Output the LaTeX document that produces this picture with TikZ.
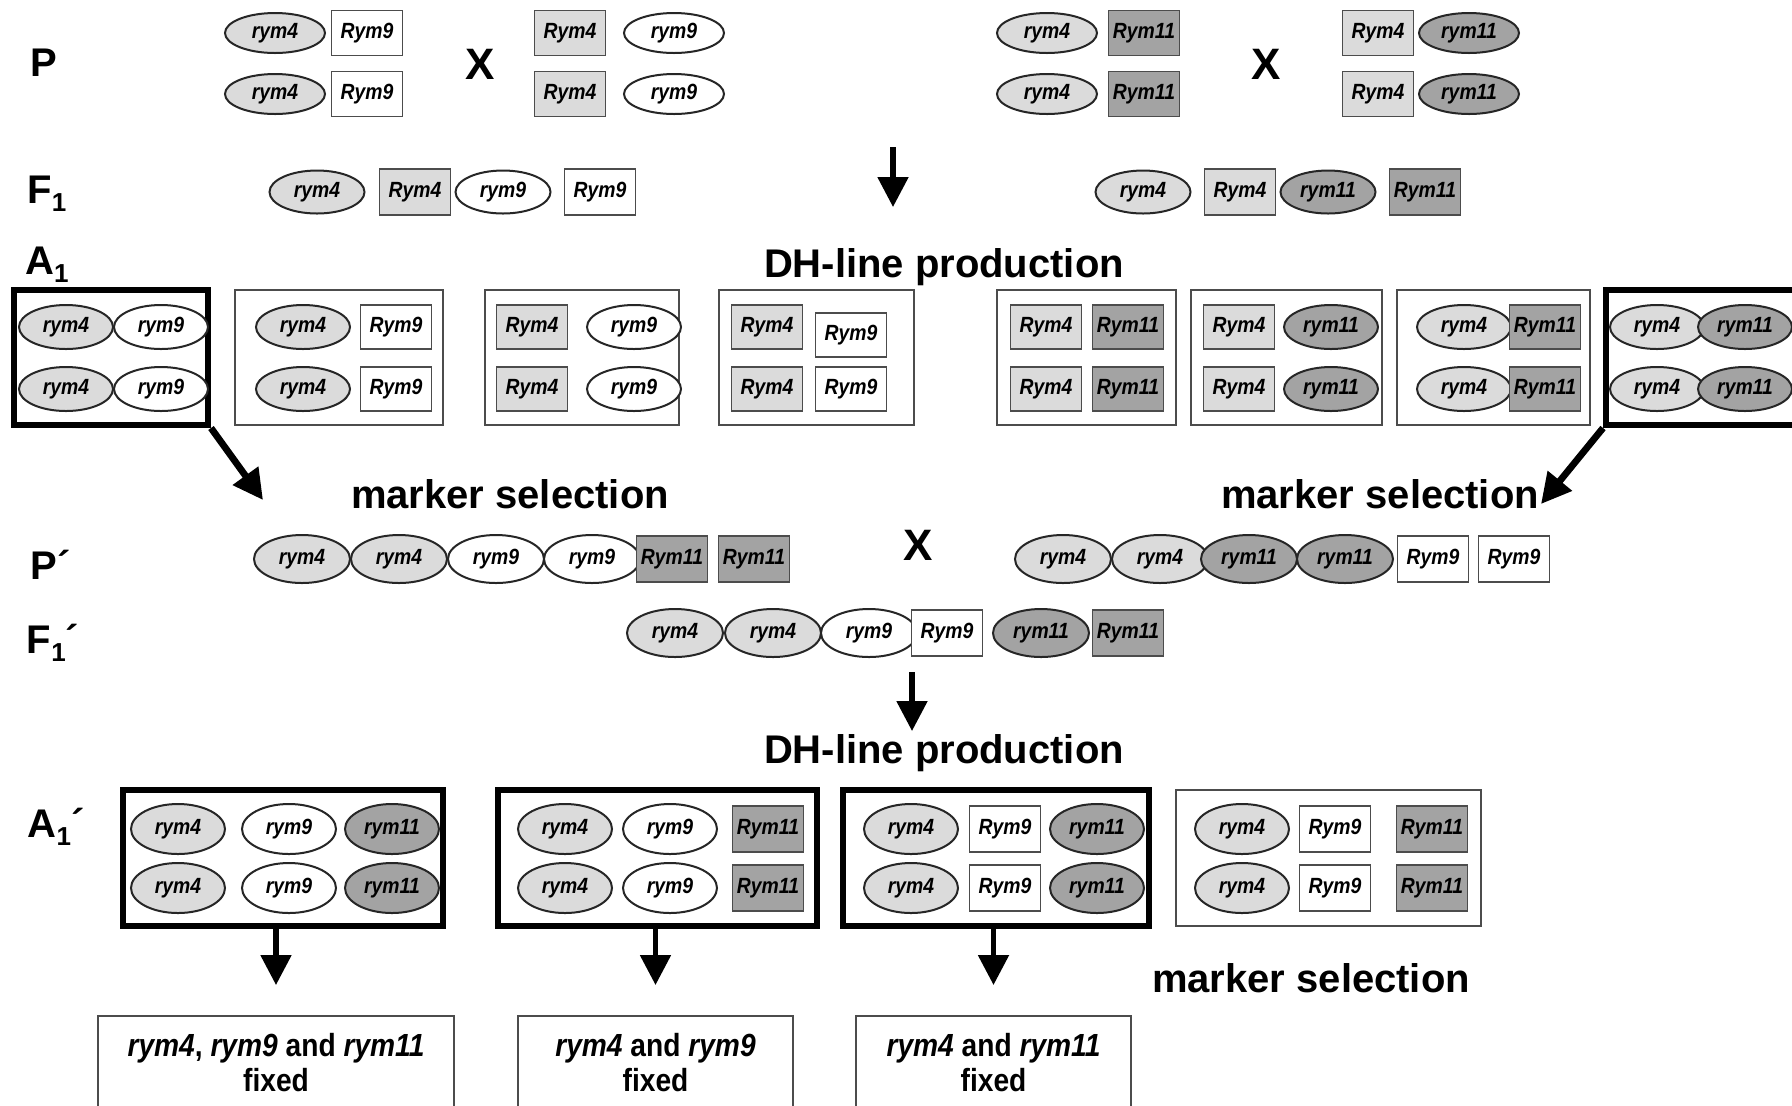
\documentclass[tikz,border=0pt]{standalone}
\usepackage{fontspec}
\setmainfont{Liberation Sans}
\newfontfamily\genefont[FakeStretch=0.88]{Liberation Sans}
\usetikzlibrary{shapes.geometric,arrows.meta}
\tikzset{
 gene/.style={font=\genefont\bfseries\itshape\fontsize{11}{12}\selectfont, inner sep=0pt},
 el/.style={gene, ellipse, draw=black!85, line width=1pt, minimum width=47pt, minimum height=22pt},
 bx/.style={gene, rectangle, draw=black!70, line width=0.9pt, minimum width=35.5pt, minimum height=22pt},
 lt/.style={fill=gray!28},
 dk/.style={fill=gray!72},
 wt/.style={fill=white},
 elP/.style={el, minimum width=50pt, minimum height=20pt},
 bxP/.style={bx, minimum height=22.5pt},
 elF/.style={el, minimum width=47.5pt, minimum height=21.5pt},
 bxF/.style={bx, minimum height=23pt},
 elQ/.style={el, minimum width=48pt, minimum height=24pt},
 bxQ/.style={bx, minimum height=23pt},
 elR/.style={el, minimum width=47pt, minimum height=25pt},
 bxR/.style={bx, minimum height=23pt},
 frm/.style={draw=black!70, line width=0.8pt, rectangle, inner sep=0pt},
 frmk/.style={draw=black, line width=3pt, rectangle, inner sep=0pt},
 big/.style={font=\bfseries\fontsize{20}{24}\selectfont, inner sep=0pt},
 cross/.style={font=\bfseries\fontsize{22}{24}\selectfont, inner sep=0pt},
 res/.style={font=\genefont\bfseries\fontsize{16}{17.5}\selectfont, align=center, inner sep=0pt},
 arr/.style={-{Triangle[length=15pt,width=15pt]}, line width=2.6pt},
 fat/.style={-{Triangle[length=15pt,width=15pt]}, line width=3.4pt},
}
\newcommand{\sub}[1]{\raisebox{-4pt}{\fontsize{13}{13}\selectfont #1}}
\begin{document}
\begin{tikzpicture}[x=0.5pt,y=-0.5pt]
\useasboundingbox (0,0) rectangle (1792,1105);
\clip (0,0) rectangle (1792,1105);
\fill[white] (0,0) rectangle (1792,1105);

% ---------- row labels ----------
\node[big] (lP) at (44,63) {P};
\node[big] (lF) at (47,194) {F\sub{1}};
\node[big] (lA) at (47,265) {A\sub{1}};
\node[big] (lP2) at (51,565) {P´};
\node[big] (lF2) at (53,643) {F\sub{1}´};
\node[big] (lA2) at (56,827) {A\sub{1}´};

% ---------- P ----------
\node[elP,lt] (pa1) at (275,33) {rym4};
\node[bxP,wt] (pa2) at (367,33) {Rym9};
\node[elP,lt] (pa3) at (275,94) {rym4};
\node[bxP,wt] (pa4) at (367,94) {Rym9};
\node[cross] (x1) at (480,64) {X};
\node[bxP,lt] (pb1) at (570,33) {Rym4};
\node[elP,wt] (pb2) at (674,33) {rym9};
\node[bxP,lt] (pb3) at (570,94) {Rym4};
\node[elP,wt] (pb4) at (674,94) {rym9};

\node[elP,lt] (pc1) at (1047,33) {rym4};
\node[bxP,dk] (pc2) at (1144,33) {Rym11};
\node[elP,lt] (pc3) at (1047,94) {rym4};
\node[bxP,dk] (pc4) at (1144,94) {Rym11};
\node[cross] (x2) at (1266,64) {X};
\node[bxP,lt] (pd1) at (1378,33) {Rym4};
\node[elP,dk] (pd2) at (1469,33) {rym11};
\node[bxP,lt] (pd3) at (1378,94) {Rym4};
\node[elP,dk] (pd4) at (1469,94) {rym11};

% ---------- F1 ----------
\node[elF,lt] (f1) at (317,192) {rym4};
\node[bxF,lt] (f2) at (415,192) {Rym4};
\node[elF,wt] (f3) at (503,192) {rym9};
\node[bxF,wt] (f4) at (600,192) {Rym9};
\node[elF,lt] (f5) at (1143,192) {rym4};
\node[bxF,lt] (f6) at (1240,192) {Rym4};
\node[elF,dk] (f7) at (1328,192) {rym11};
\node[bxF,dk] (f8) at (1425,192) {Rym11};

\coordinate (d1s) at (893,147);
\coordinate (d1e) at (893,207);
\draw[arr] (d1s) -- (d1e);

\node[big] (dh1) at (944,267) {DH-line production};

% ---------- A1 ----------
\node[frmk, minimum width=97pt, minimum height=67.5pt] (fa) at (111,357.5) {};
\node[el,lt] (a1) at (66,327) {rym4};
\node[el,wt] (a2) at (161,327) {rym9};
\node[el,lt] (a3) at (66,389) {rym4};
\node[el,wt] (a4) at (161,389) {rym9};

\node[frm, minimum width=104pt, minimum height=67.5pt] (fb) at (339,357.5) {};
\node[el,lt] (b1) at (303,327) {rym4};
\node[bx,wt] (b2) at (396,327) {Rym9};
\node[el,lt] (b3) at (303,389) {rym4};
\node[bx,wt] (b4) at (396,389) {Rym9};

\node[frm, minimum width=97pt, minimum height=67.5pt] (fc) at (582,357.5) {};
\node[bx,lt] (c1) at (532,327) {Rym4};
\node[el,wt] (c2) at (634,327) {rym9};
\node[bx,lt] (c3) at (532,389) {Rym4};
\node[el,wt] (c4) at (634,389) {rym9};

\node[frm, minimum width=97.5pt, minimum height=67.5pt] (fd) at (816.5,357.5) {};
\node[bx,lt] (d1) at (767,327) {Rym4};
\node[bx,wt] (d2) at (851,335) {Rym9};
\node[bx,lt] (d3) at (767,389) {Rym4};
\node[bx,wt] (d4) at (851,389) {Rym9};

\node[frm, minimum width=89.5pt, minimum height=67.5pt] (fe) at (1086.5,357.5) {};
\node[bx,lt] (e1) at (1046,327) {Rym4};
\node[bx,dk] (e2) at (1128,327) {Rym11};
\node[bx,lt] (e3) at (1046,389) {Rym4};
\node[bx,dk] (e4) at (1128,389) {Rym11};

\node[frm, minimum width=95.5pt, minimum height=67.5pt] (ff) at (1286.5,357.5) {};
\node[bx,lt] (g1) at (1239,327) {Rym4};
\node[el,dk] (g2) at (1331,327) {rym11};
\node[bx,lt] (g3) at (1239,389) {Rym4};
\node[el,dk] (g4) at (1331,389) {rym11};

\node[frm, minimum width=96.5pt, minimum height=67.5pt] (fg) at (1493.5,357.5) {};
\node[el,lt] (h1) at (1464,327) {rym4};
\node[bx,dk] (h2) at (1545,327) {Rym11};
\node[el,lt] (h3) at (1464,389) {rym4};
\node[bx,dk] (h4) at (1545,389) {Rym11};

\node[frmk, minimum width=102pt, minimum height=67.5pt] (fh) at (1708,357.5) {};
\node[el,lt] (k1) at (1657,327) {rym4};
\node[el,dk] (k2) at (1745,327) {rym11};
\node[el,lt] (k3) at (1657,389) {rym4};
\node[el,dk] (k4) at (1745,389) {rym11};

\coordinate (sl) at (263,500);
\coordinate (sr) at (1541,504);
\draw[fat] (fa.south east) -- (sl);
\draw[fat] (fh.south west) -- (sr);

\node[big] (ms1) at (510,494) {marker selection};
\node[big] (ms2) at (1380,494) {marker selection};

% ---------- P' ----------
\node[elQ,lt] (q1) at (302,559) {rym4};
\node[elQ,lt] (q2) at (399,559) {rym4};
\node[elQ,wt] (q3) at (496,559) {rym9};
\node[elQ,wt] (q4) at (592,559) {rym9};
\node[bxQ,dk] (q5) at (672,559) {Rym11};
\node[bxQ,dk] (q6) at (754,559) {Rym11};
\node[cross] (x3) at (918,545) {X};
\node[elQ,lt] (r1) at (1063,559) {rym4};
\node[elQ,lt] (r2) at (1160,559) {rym4};
\node[elQ,dk] (r3) at (1249,559) {rym11};
\node[elQ,dk] (r4) at (1345,559) {rym11};
\node[bxQ,wt] (r5) at (1433,559) {Rym9};
\node[bxQ,wt] (r6) at (1514,559) {Rym9};

% ---------- F1' ----------
\node[elQ,lt] (s1) at (675,633) {rym4};
\node[elQ,lt] (s2) at (773,633) {rym4};
\node[elQ,wt] (s3) at (869,633) {rym9};
\node[bxQ,wt] (s4) at (947,633) {Rym9};
\node[elQ,dk] (s5) at (1041,633) {rym11};
\node[bxQ,dk] (s6) at (1128,633) {Rym11};

\coordinate (d2s) at (912,672);
\coordinate (d2e) at (912,731);
\draw[arr] (d2s) -- (d2e);

\node[big] (dh2) at (944,753) {DH-line production};

% ---------- A1' ----------
\node[frmk, minimum width=160pt, minimum height=68pt] (fA) at (283,858) {};
\node[elR,lt] (t1) at (178,829) {rym4};
\node[elR,wt] (t2) at (289,829) {rym9};
\node[elR,dk] (t3) at (392,829) {rym11};
\node[elR,lt] (t4) at (178,888) {rym4};
\node[elR,wt] (t5) at (289,888) {rym9};
\node[elR,dk] (t6) at (392,888) {rym11};

\node[frmk, minimum width=159.5pt, minimum height=68pt] (fB) at (657.5,858) {};
\node[elR,lt] (u1) at (565,829) {rym4};
\node[elR,wt] (u2) at (670,829) {rym9};
\node[bxR,dk] (u3) at (768,829) {Rym11};
\node[elR,lt] (u4) at (565,888) {rym4};
\node[elR,wt] (u5) at (670,888) {rym9};
\node[bxR,dk] (u6) at (768,888) {Rym11};

\node[frmk, minimum width=153pt, minimum height=68pt] (fC) at (996,858) {};
\node[elR,lt] (v1) at (911,829) {rym4};
\node[bxR,wt] (v2) at (1005,829) {Rym9};
\node[elR,dk] (v3) at (1097,829) {rym11};
\node[elR,lt] (v4) at (911,888) {rym4};
\node[bxR,wt] (v5) at (1005,888) {Rym9};
\node[elR,dk] (v6) at (1097,888) {rym11};

\node[frm, minimum width=152.5pt, minimum height=68pt] (fD) at (1328.5,858) {};
\node[elR,lt] (w1) at (1242,829) {rym4};
\node[bxR,wt] (w2) at (1335,829) {Rym9};
\node[bxR,dk] (w3) at (1432,829) {Rym11};
\node[elR,lt] (w4) at (1242,888) {rym4};
\node[bxR,wt] (w5) at (1335,888) {Rym9};
\node[bxR,dk] (w6) at (1432,888) {Rym11};

\node[big] (ms3) at (1311,978) {marker selection};

% ---------- results ----------
\node[frm, line width=1pt, minimum width=178pt, minimum height=60pt, anchor=north] (bA) at (276,1015) {};
\node[frm, line width=1pt, minimum width=137.5pt, minimum height=60pt, anchor=north] (bB) at (655.5,1015) {};
\node[frm, line width=1pt, minimum width=137.5pt, minimum height=60pt, anchor=north] (bC) at (993.5,1015) {};
\node[res] (tA) at (276,1063) {\itshape rym4\upshape, \itshape rym9 \upshape and \itshape rym11\\\upshape fixed};
\node[res] (tB) at (655.5,1063) {\itshape rym4 \upshape and \itshape rym9\\\upshape fixed};
\node[res] (tC) at (993.5,1063) {\itshape rym4 \upshape and \itshape rym11\\\upshape fixed};

\draw[arr, shorten >=15pt] (bA.north |- fA.south) -- (bA.north);
\draw[arr, shorten >=15pt] (bB.north |- fB.south) -- (bB.north);
\draw[arr, shorten >=15pt] (bC.north |- fC.south) -- (bC.north);
\end{tikzpicture}
\end{document}
